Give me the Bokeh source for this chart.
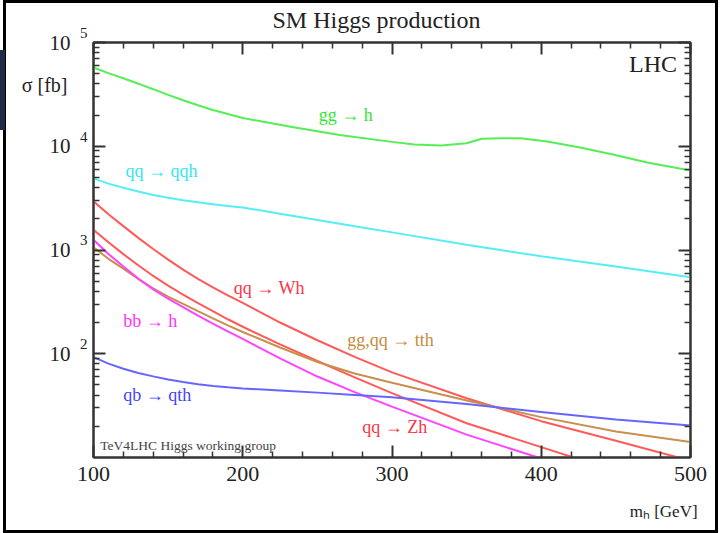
from bokeh.plotting import figure
from bokeh.models import LogAxis, LinearAxis, FixedTicker, Label
from bokeh.embed import file_html
from bokeh.resources import INLINE

# ---------------- data (cross sections in fb) ----------------
mass = [100, 110, 120, 130, 140, 150, 160, 170, 180, 190, 200,
        225, 250, 275, 300, 350, 400, 450, 500]

mass_gg = [100, 110, 120, 130, 140, 150, 160, 170, 180, 190, 200, 232, 265,
           300, 315, 333, 350, 360, 373, 386, 404, 426, 448, 471, 500]
sigma_gg_h = [57410, 50700, 45190, 40090, 35480, 31260, 27730, 24830, 22390,
              20420, 18710, 15420, 12820, 11020, 10400, 10160, 10690, 11800,
              11970, 11970, 11120, 9727, 8318, 6966, 5834]

sigma_qq_qqh = [4898, 4365, 3981, 3656, 3388, 3184, 3020, 2884, 2754, 2655,
                2570, 2239, 1950, 1698, 1479, 1122, 871, 692, 547]
sigma_qq_Wh = [2951, 2213, 1698, 1309, 1023, 807, 646, 527, 437, 366, 309,
               200, 135, 93.3, 66.1, 37.2, 22.4, 14.5, 9.3]
sigma_qq_Zh = [1567, 1189, 912, 713, 562, 454, 372, 307, 257, 215, 182,
               123, 85.1, 59.3, 41.7, 21.4, 12.6, 7.4, 4.6]
sigma_bb_h = [1253, 916, 692, 531, 417, 339, 282, 233, 195, 164, 139,
              90.2, 60.3, 42.7, 30.9, 16.6, 9.8, 5.9, 3.6]
sigma_tth = [1064, 822, 661, 525, 427, 355, 302, 257, 219, 188, 162,
             115, 83.2, 64.6, 52.5, 35.5, 24.5, 17.8, 14.1]
sigma_qb_qth = [92.7, 80.4, 71.6, 65.3, 60.5, 56.6, 53.3, 50.8, 49.0, 47.5,
                46.3, 44.2, 42.2, 40.1, 38.0, 32.7, 27.5, 23.2, 20.3]

x_ticks = [100, 200, 300, 400, 500]
y_ticks = [100, 1000, 10000, 100000]
y_tick_base = "10"
y_tick_exponents = ["2", "3", "4", "5"]

title_text = "SM Higgs production"
y_title = "\u03c3 [fb]"
x_title = "m\u2095 [GeV]"
curve_labels = ["gg \u2192 h", "qq \u2192 qqh", "qq \u2192 Wh", "bb \u2192 h",
                "gg,qq \u2192 tth", "qb \u2192 qth", "qq \u2192 Zh"]

# ---------------- styles ----------------
SERIF = "Liberation Serif"
C_GREEN = "#55ee55"
C_CYAN = "#55eef8"
C_RED = "#ff5a5a"
C_MAG = "#ff44ff"
C_BROWN = "#c8904c"
C_BLUE = "#6666ff"
AXC = "#333333"
TXT = "#222222"

p = figure(width=709, height=527, x_range=(100, 500), y_range=(10, 1e5),
           y_axis_type="log", output_backend="svg", toolbar_location=None,
           min_border_left=87, min_border_right=25, min_border_top=39,
           min_border_bottom=73, background_fill_color="white",
           border_fill_color="white")
p.styles = {"position": "relative", "left": "6px", "top": "3px",
            "outline": "3px solid black"}
p.stylesheets = [":host::before { content: ''; position: absolute; left: -6px; "
                 "top: 47px; width: 5px; height: 80px; background: #1f2a48; }"]
p.xgrid.grid_line_color = None
p.ygrid.grid_line_color = None
p.outline_line_color = AXC
p.outline_line_width = 2

p.title.text = title_text
p.title.text_font = SERIF
p.title.text_font_size = "24px"
p.title.text_font_style = "normal"
p.title.text_color = TXT
p.title.align = "left"
p.title.offset = 179
p.title.standoff = 1

x_minor = [v for v in range(120, 500, 20) if v not in x_ticks]
y_minor = [k * d for d in (10, 100, 1000, 10000) for k in range(2, 10)]


def style_axis(ax, labels=True, ticks=None):
    ax.axis_line_color = AXC
    ax.axis_line_width = 2
    ax.major_tick_line_color = AXC
    ax.minor_tick_line_color = AXC
    ax.major_tick_line_width = 2
    ax.minor_tick_line_width = 1.5
    ax.major_tick_in = 12
    ax.major_tick_out = 0
    ax.minor_tick_in = 6
    ax.minor_tick_out = 0
    if not labels:
        ax.major_label_overrides = {t: " " for t in ticks}
        ax.major_label_standoff = 0
        ax.major_label_text_font_size = "6px"


def text_axis(ax, ticks, texts, size, standoff):
    ax.ticker = FixedTicker(ticks=ticks, minor_ticks=[])
    ax.major_label_overrides = dict(zip(ticks, texts))
    ax.axis_line_color = None
    ax.major_tick_line_color = None
    ax.minor_tick_line_color = None
    ax.major_tick_in = 0
    ax.major_tick_out = 0
    ax.minor_tick_in = 0
    ax.minor_tick_out = 0
    ax.major_label_text_font = SERIF
    ax.major_label_text_font_size = size
    ax.major_label_text_color = TXT
    ax.major_label_standoff = standoff


xb = p.xaxis[0]
xb.ticker = FixedTicker(ticks=x_ticks, minor_ticks=x_minor)
style_axis(xb)
xb.major_label_text_font = SERIF
xb.major_label_text_font_size = "22px"
xb.major_label_text_color = TXT
xb.major_label_standoff = 9

# main y axis: ticks + the exponents of the tick labels (raised by an empty 2nd line)
yl = p.yaxis[0]
yl.ticker = FixedTicker(ticks=y_ticks, minor_ticks=y_minor)
style_axis(yl)
yl.major_label_overrides = {t: e + "\n\u00a0" for t, e in zip(y_ticks, y_tick_exponents)}
yl.major_label_text_font = SERIF
yl.major_label_text_font_size = "15px"
yl.major_label_text_color = TXT
yl.major_label_standoff = 6

# the "10" bases of the tick labels
y_base_axis = LogAxis()
text_axis(y_base_axis, y_ticks, [y_tick_base] * len(y_ticks), "21px", 6)
p.add_layout(y_base_axis, "left")

# axis titles placed like the original (sigma at top left, m_h at bottom right)
y_title_axis = LogAxis()
text_axis(y_title_axis, [38900], [y_title], "20px", -21)
p.add_layout(y_title_axis, "left")
x_title_axis = LinearAxis()
text_axis(x_title_axis, [482], [x_title], "17px", 18)
p.add_layout(x_title_axis, "below")

xt = LinearAxis(ticker=FixedTicker(ticks=x_ticks, minor_ticks=x_minor))
style_axis(xt, labels=False, ticks=x_ticks)
p.add_layout(xt, "above")
yr = LogAxis(ticker=FixedTicker(ticks=y_ticks, minor_ticks=y_minor))
style_axis(yr, labels=False, ticks=y_ticks)
p.add_layout(yr, "right")

# ---------------- curves ----------------
LW = 2
p.line(mass_gg, sigma_gg_h, line_color=C_GREEN, line_width=LW)
p.line(mass, sigma_qq_qqh, line_color=C_CYAN, line_width=LW)
p.line(mass, sigma_qq_Wh, line_color=C_RED, line_width=LW)
p.line(mass, sigma_qq_Zh, line_color=C_RED, line_width=LW)
p.line(mass, sigma_tth, line_color=C_BROWN, line_width=LW)
p.line(mass, sigma_bb_h, line_color=C_MAG, line_width=LW)
p.line(mass, sigma_qb_qth, line_color=C_BLUE, line_width=LW)

# ---------------- curve labels ----------------
label_x = [251, 121.5, 194, 120, 270, 120, 280]
label_y = [19800, 5830, 426, 205, 137, 39.6, 19.7]
label_c = ["#33e633", "#33e6f5", "#ff3344", "#ff33ff", "#c88a3c", "#4444ff", "#ff3344"]
for t, x, y, c in zip(curve_labels, label_x, label_y, label_c):
    p.add_layout(Label(x=x, y=y, text=t, text_font=SERIF, text_font_size="18px",
                       text_color=c, text_baseline="middle", text_align="left"))

p.add_layout(Label(x=491, y=62000, text="LHC", text_font=SERIF,
                   text_font_size="24px", text_color=TXT,
                   text_baseline="middle", text_align="right"))
p.add_layout(Label(x=104.5, y=13.0, text="TeV4LHC Higgs working group",
                   text_font=SERIF, text_font_size="13.5px", text_color="#444444",
                   text_baseline="middle", text_align="left"))

open("out.html", "w").write(file_html(p, INLINE))
